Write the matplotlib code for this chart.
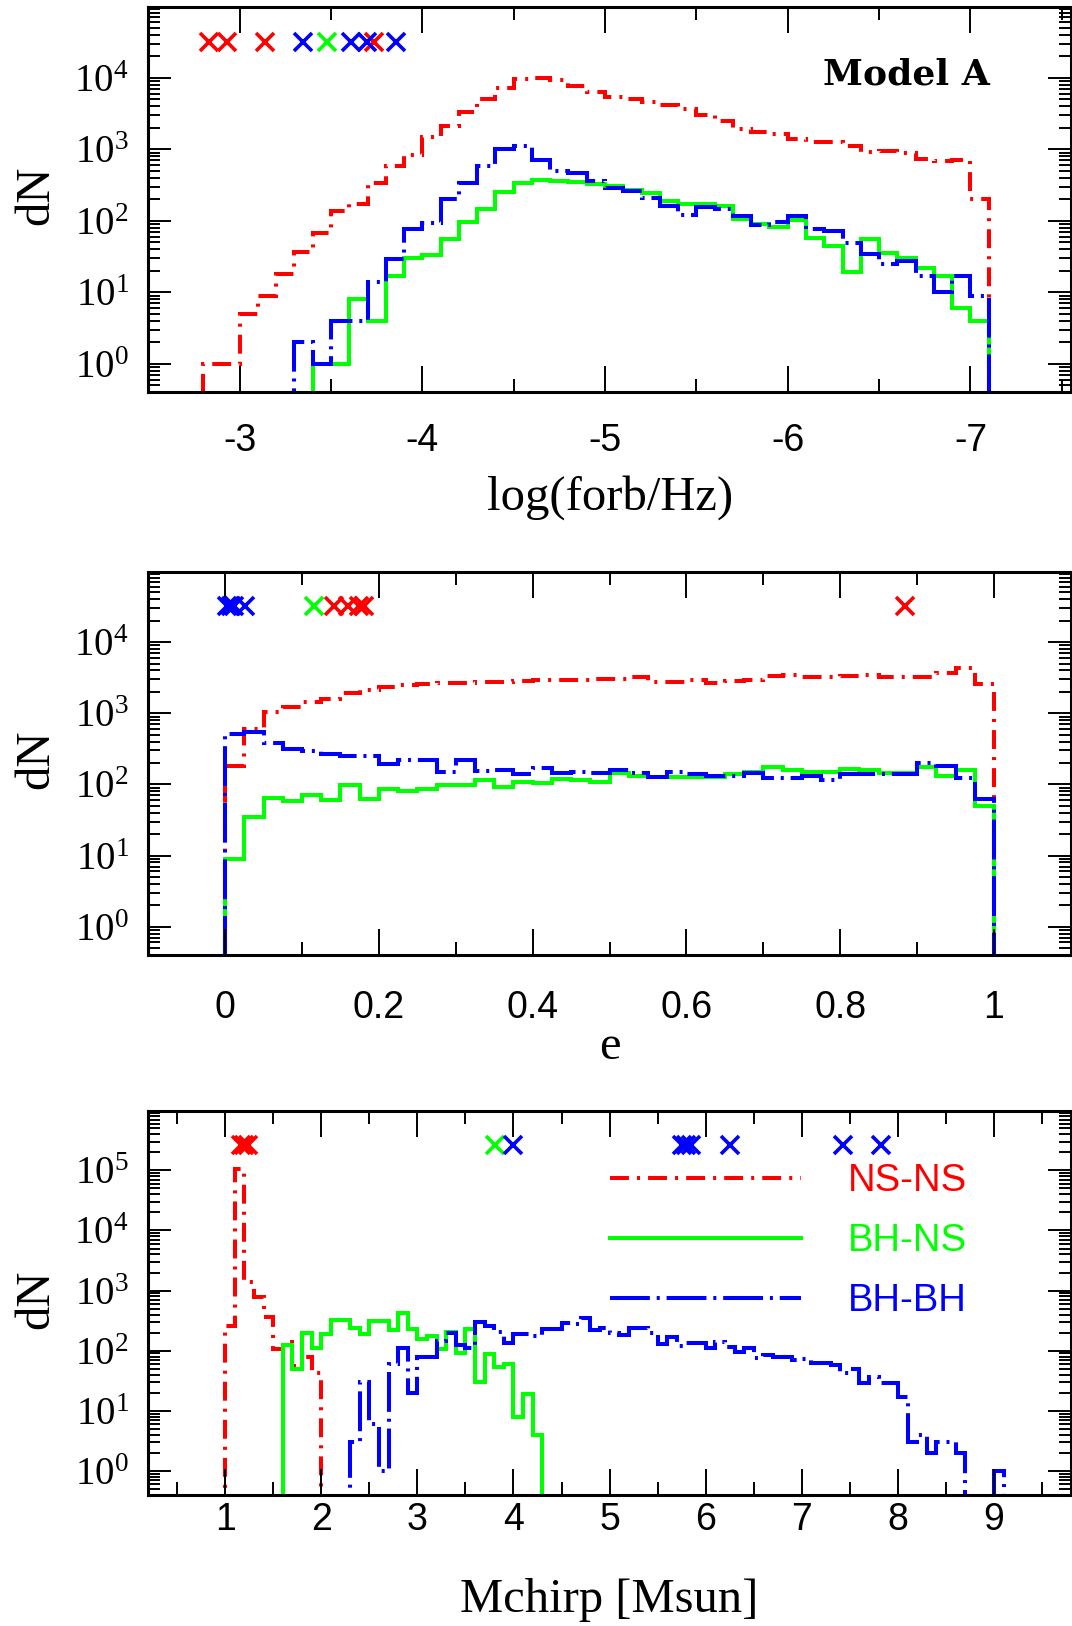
import numpy as np
import matplotlib
matplotlib.use("Agg")
import matplotlib.pyplot as plt
from matplotlib.lines import Line2D
from matplotlib.ticker import MultipleLocator, LogLocator, FuncFormatter, NullFormatter

plt.rcParams['font.family'] = ['Liberation Sans Narrow', 'Liberation Sans']
plt.rcParams['axes.unicode_minus'] = False
plt.rcParams['mathtext.fontset'] = 'custom'
plt.rcParams['mathtext.rm'] = 'Liberation Serif'

#-------------------------------------------------------------------------
# histogram data
#-------------------------------------------------------------------------

# log(forb/Hz): 0.1 dex bins, first bin starts at -2.8 and goes down to -7.1
forb_lo = -2.8
forb_bin = -0.1
forb_nsns = [1, 1, 5, 9, 18, 37, 67, 139, 172, 336, 576, 839,
             1486, 2143, 3296, 5070, 7240, 9480, 10000, 9200, 7600, 6400,
             5300, 5100, 4600, 4200, 3700, 3000, 2500, 1950, 1750, 1630,
             1410, 1270, 1270, 1110, 918, 948, 898, 724, 686, 709,
             203]
forb_bhns = [0, 0, 0, 0, 0, 0, 1, 1, 8, 4, 17, 30,
             33, 56, 97, 146, 256, 336, 370, 365, 350, 322,
             305, 268, 241, 192, 174, 174, 163, 107, 91, 81,
             102, 57, 44, 19, 55, 36, 30, 22, 17, 6,
             4]
forb_bhbh = [0, 0, 0, 0, 0, 2, 1, 4, 4, 14, 29, 78,
             94, 200, 343, 575, 1007, 1099, 714, 500, 470, 365,
             289, 259, 209, 163, 122, 156, 147, 118, 88, 95,
             116, 77, 73, 49, 34, 25, 27, 17, 10, 17,
             9]

# eccentricity: 40 bins on [0, 1]
ecc_lo = 0.0
ecc_bin = 0.025
ecc_nsns = [181, 602, 1032, 1214, 1426, 1590, 1927, 2146, 2364, 2497,
            2577, 2660, 2660, 2720, 2780, 2870, 2900, 2950, 2966, 3030,
            3030, 3200, 2720, 2720, 2966, 2660, 2810, 2966, 3300, 3480,
            3230, 3230, 3370, 3480, 3200, 3200, 3200, 3675, 4320, 2606]
ecc_bhns = [9, 35, 65, 58, 70, 60, 97, 62, 85, 81,
            87, 99, 99, 114, 92, 108, 105, 120, 117, 108,
            146, 131, 128, 128, 128, 128, 138, 151, 177, 162,
            149, 149, 166, 159, 143, 143, 173, 131, 159, 50]
ecc_bhbh = [513, 542, 384, 316, 293, 269, 255, 247, 195, 217,
            217, 149, 217, 154, 161, 141, 169, 144, 151, 146,
            159, 146, 127, 151, 138, 131, 131, 146, 124, 124,
            131, 115, 138, 141, 141, 141, 197, 181, 124, 63]

# chirp mass: 0.1 Msun bins, each family has its own first edge
mc_bin = 0.1
mc_nsns_lo = 1.0
mc_nsns = [260, 105000, 1400, 770, 370, 105, 140, 55, 80, 43]
mc_bhns_lo = 1.6
mc_bhns = [125, 50, 195, 110, 190, 322, 320, 235, 190, 310,
           310, 220, 420, 228, 157, 173, 107, 206, 91, 228,
           30, 88, 53, 61, 8, 19, 4]
mc_bhbh_lo = 2.3
mc_bhbh = [3, 30, 6, 1, 61, 110, 20,
           79, 79, 146, 198, 124, 109, 302, 256, 206, 132,
           188, 188, 178, 227, 227, 293, 275, 346, 221, 242,
           194, 183, 242, 236, 194, 130, 171, 120, 136, 136,
           109, 138, 114, 96, 109, 75, 85, 79, 79, 70,
           72, 63, 63, 58, 43, 49, 29, 36, 29, 29,
           17, 3, 4, 2, 3, 3, 2, 0, 0, 0,
           1]

# individual systems marked along the top of each panel
forb_x_nsns = [-2.834, -2.931, -3.141, -3.733]
forb_x_bhns = [-3.478]
forb_x_bhbh = [-3.345, -3.61, -3.695, -3.858]
ecc_x_nsns = [0.142, 0.16, 0.174, 0.18, 0.884]
ecc_x_bhns = [0.115]
ecc_x_bhbh = [0.003, 0.008, 0.012, 0.026]
mc_x_nsns = [1.16, 1.2, 1.24]
mc_x_bhns = [3.81]
mc_x_bhbh = [4.0, 5.75, 5.8, 5.85, 6.25, 7.43, 7.82]

labels = ['NS-NS', 'BH-NS', 'BH-BH']
colors = ['#ff0000', '#00ff00', '#0000ff']

LW = 2.9
styles = [(0, (4.7, 2.0, 0.75, 2.0)), '-', (0, (9.9, 1.7, 0.75, 1.7))]

#-------------------------------------------------------------------------
# helpers
#-------------------------------------------------------------------------

def draw_hist(ax, lo, width, counts, color, ls):
  counts = np.asarray(counts, dtype=float)
  edges = lo + width * np.arange(len(counts) + 1)
  # empty bins drop below the axis
  vals = np.where(counts > 0, counts, 1e-2)
  ax.stairs(vals, edges, baseline=1e-2, color=color, lw=LW, ls=ls)

def draw_marks(ax, xs, color):
  ax.plot(xs, np.full(len(xs), 0.91), 'x', color=color, ms=13, mew=2.6,
          transform=ax.get_xaxis_transform(), clip_on=False)

def setup(ax, xlim, ytop, major, minor, xpad):
  ax.set_yscale('log')
  ax.set_xlim(*xlim)
  ax.set_ylim(0.4, ytop)
  ax.xaxis.set_major_locator(MultipleLocator(major))
  ax.xaxis.set_minor_locator(MultipleLocator(minor))
  ax.xaxis.set_major_formatter(FuncFormatter(lambda v, p: '%g' % (round(v, 6) + 0.0)))
  ax.yaxis.set_major_locator(LogLocator(base=10, numticks=20))
  ax.yaxis.set_minor_locator(LogLocator(base=10, subs=np.arange(2, 10), numticks=20))
  ax.yaxis.set_major_formatter(FuncFormatter(
    lambda v, p: r'$\mathrm{10^{%d}}$' % round(np.log10(v))))
  ax.yaxis.set_minor_formatter(NullFormatter())
  ax.tick_params(which='both', direction='in', top=True, right=True, width=1.4)
  ax.tick_params(axis='x', which='major', length=18.5, labelsize=27, pad=xpad)
  ax.tick_params(axis='x', which='minor', length=9.2)
  ax.tick_params(axis='y', which='major', length=16.5, labelsize=28, pad=14)
  ax.tick_params(axis='y', which='minor', length=8.6)
  for s in ax.spines.values():
    s.set_linewidth(2.2)
  ax.set_ylabel('dN', fontfamily='Liberation Serif', fontsize=35,
                ha='center', va='center')
  ax.yaxis.set_label_coords(-0.1217, 0.51)

#-------------------------------------------------------------------------
# figure
#-------------------------------------------------------------------------

fig = plt.figure(figsize=(10.72, 16.26), dpi=100)
ax1 = fig.add_axes([0.1383, 0.7587, 0.8607, 0.2371])
ax2 = fig.add_axes([0.1383, 0.4127, 0.8607, 0.2357])
ax3 = fig.add_axes([0.1383, 0.0806, 0.8607, 0.2363])

# orbital frequency
for vals, c, ls in zip([forb_nsns, forb_bhns, forb_bhbh], colors, styles):
  draw_hist(ax1, forb_lo, forb_bin, vals, c, ls)
for xs, c in zip([forb_x_nsns, forb_x_bhns, forb_x_bhbh], colors):
  draw_marks(ax1, xs, c)
setup(ax1, (-2.5, -7.55), 0.98e5, 1, 0.5, 22)
ax1.set_xlabel('log(forb/Hz)', fontfamily='Liberation Serif', fontsize=35, va='center')
ax1.xaxis.set_label_coords(0.5, -0.273)
ax1.text(0.822, 0.824, 'Model A', transform=ax1.transAxes, ha='center', va='center',
         fontfamily='DejaVu Serif', fontweight='bold', fontsize=26)

# eccentricity
for vals, c, ls in zip([ecc_nsns, ecc_bhns, ecc_bhbh], colors, styles):
  draw_hist(ax2, ecc_lo, ecc_bin, vals, c, ls)
for xs, c in zip([ecc_x_nsns, ecc_x_bhns, ecc_x_bhbh], colors):
  draw_marks(ax2, xs, c)
setup(ax2, (-0.1, 1.1), 0.98e5, 0.2, 0.1, 25)
ax2.set_xlabel('e', fontfamily='Liberation Serif', fontsize=35, va='center')
ax2.xaxis.set_label_coords(0.5, -0.240)

# chirp mass
mc_los = [mc_nsns_lo, mc_bhns_lo, mc_bhbh_lo]
for lo, vals, c, ls in zip(mc_los, [mc_nsns, mc_bhns, mc_bhbh], colors, styles):
  draw_hist(ax3, lo, mc_bin, vals, c, ls)
for xs, c in zip([mc_x_nsns, mc_x_bhns, mc_x_bhbh], colors):
  draw_marks(ax3, xs, c)
setup(ax3, (0.2, 9.8), 0.98e6, 1, 0.5, 5)
ax3.set_xlabel('Mchirp [Msun]', fontfamily='Liberation Serif', fontsize=35, va='center')
ax3.xaxis.set_label_coords(0.5, -0.273)

handles = [Line2D([], [], color=c, lw=LW, ls=ls) for c, ls in zip(colors, styles)]
ax3.legend(handles, labels, loc='upper left', bbox_to_anchor=(0.5, 0.864),
           frameon=False, borderpad=0, borderaxespad=0, handlelength=5.0,
           handletextpad=1.25, labelspacing=0.63, labelcolor='linecolor',
           prop={'family': 'Liberation Sans', 'size': 27.5})

fig.savefig('out.png', dpi=100)
